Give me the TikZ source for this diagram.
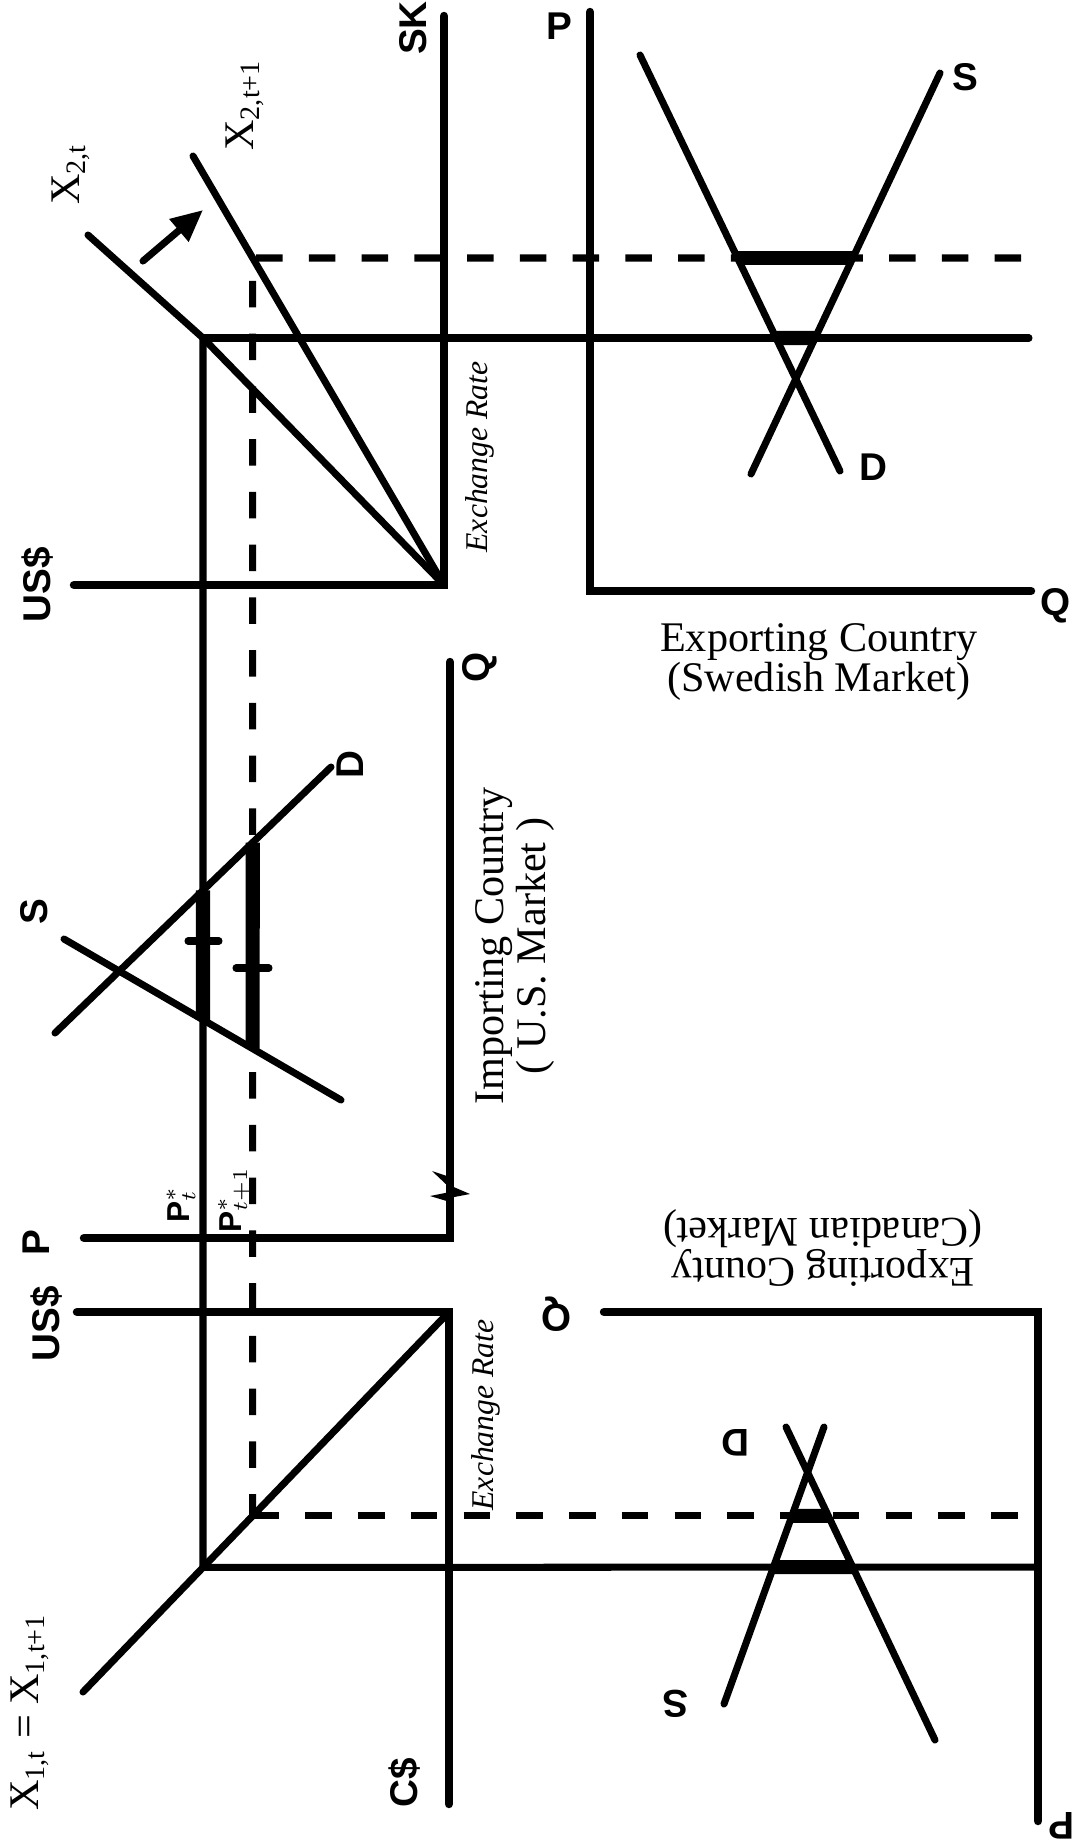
\documentclass[tikz,border=0pt]{standalone}
\usepackage{fontspec}
\setmainfont{Liberation Serif}
\setsansfont{Liberation Sans}
\usepackage{tikz}
\usetikzlibrary{arrows.meta, calc}

\begin{document}
\begin{tikzpicture}[
  x=0.01cm, y=-0.01cm,
  axis/.style={line width=2.4pt, line cap=round},
  curve/.style={line width=2pt, line cap=round},
  guide/.style={line width=2pt, dash pattern=on 7.5pt off 7.5pt},
  bar/.style={line width=4pt},
  lbl/.style={font=\sffamily\bfseries\fontsize{11}{13}\selectfont, inner sep=0pt},
  ttl/.style={font=\fontsize{12}{11.5}\selectfont, align=center, inner sep=0pt},
  rate/.style={font=\itshape\fontsize{9}{11}\selectfont, inner sep=0pt},
  xlab/.style={font=\fontsize{12}{14}\selectfont, inner sep=0pt}
]
  \useasboundingbox (0,0) rectangle (1075,1839);

  % exchange rate SK / US$
  \coordinate (skTop) at (444,16);
  \coordinate (oA)    at (444,585);
  \coordinate (usA)   at (74,585);
  \coordinate (cA)    at (203,338);
  \coordinate (xa)    at (88,235);
  \coordinate (xb)    at (193,156);
  \coordinate (gL)    at (0,258);
  \coordinate (gA)    at (1021,258);
  \coordinate (eA)    at (1029,338);
  \coordinate (dA)    at (intersection of oA--xb and gL--gA);
  \coordinate (ar1)   at (143,261);
  \coordinate (ar2)   at (203,210);

  \draw[axis] (skTop) -- (oA) -- (usA);
  \draw[curve] (oA) -- (cA) -- (xa);
  \draw[curve] (oA) -- (xb);
  \draw[curve, -{Triangle[length=9pt, width=8pt]}] (ar1) -- (ar2);

  \node[lbl, rotate=90]  (skL)  at (413,28)  {SK};
  \node[lbl, rotate=90]  (usL1) at (38,585)  {US\$};
  \node[xlab, rotate=90] (x2t)  at (71,174)  {X\textsubscript{2,t}};
  \node[xlab, rotate=90] (x2t1) at (245,105) {X\textsubscript{2,t+1}};
  \node[rate, rotate=90] (erA)  at (480,457) {Exchange Rate};

  % Swedish market
  \coordinate (pS)  at (590,12);
  \coordinate (oS)  at (590,591);
  \coordinate (qS)  at (1031,591);
  \coordinate (dS1) at (640,55);
  \coordinate (dS2) at (840,471);
  \coordinate (sS1) at (751,474);
  \coordinate (sS2) at (940,73);

  \draw[axis] (pS) -- (oS) -- (qS);
  \draw[curve] (dS1) -- (dS2);
  \draw[curve] (sS1) -- (sS2);
  \draw[bar] (intersection of dS1--dS2 and gL--gA) -- (intersection of sS1--sS2 and gL--gA);
  \draw[bar] (intersection of dS1--dS2 and cA--eA) -- (intersection of sS1--sS2 and cA--eA);

  \node[lbl] (pSL) at (559,26)  {P};
  \node[lbl] (qSL) at (1056,606) {Q};
  \node[lbl] (sSL) at (965,77)  {S};
  \node[lbl] (dSL) at (873,467) {D};
  \node[ttl] (swe) at (819,662) {Exporting Country\\(Swedish Market)};

  % exchange rate US$ / C$
  \coordinate (oB)  at (449,1312);
  \coordinate (usB) at (77,1312);
  \coordinate (cdB) at (449,1804);
  \coordinate (xc)  at (83,1692);
  \coordinate (cB)  at (intersection of oB--xc and cA--{203,1800});
  \coordinate (dBot) at (dA |- 0,1800);
  \coordinate (dB)  at (intersection of oB--xc and dA--dBot);

  \draw[axis] (usB) -- (oB) -- (cdB);
  \draw[curve] (oB) -- (xc);

  \node[lbl, rotate=90]  (usL2) at (47,1324)  {US\$};
  \node[lbl, rotate=90]  (cdL)  at (405,1783) {C\$};
  \node[xlab, rotate=90] (x1t)  at (30,1712)  {X\textsubscript{1,t} = X\textsubscript{1,t+1}};
  \node[rate, rotate=90] (erB)  at (486,1415) {Exchange Rate};

  % guide lines
  \draw[curve] (cA) -- (eA);
  \draw[curve] (cA) -- (cB);
  \draw[guide] (gA) -- (dA) -- (dB);

  % U.S. market
  \coordinate (pU)  at (84,1238);
  \coordinate (oU)  at (450,1238);
  \coordinate (qU)  at (450,662);
  \coordinate (dU1) at (55,1033);
  \coordinate (dU2) at (331,767);
  \coordinate (sU1) at (64,939);
  \coordinate (sU2) at (341,1100);

  \draw[axis] (pU) -- (oU) -- (qU);
  % axis break
  \fill (450,1177) -- (432,1171) -- (450,1188) -- cycle;
  \fill (449,1185) -- (470,1194) -- (449,1198) -- cycle;
  \fill (450,1192) -- (430,1196) -- (450,1202) -- cycle;
  \draw[curve] (dU1) -- (dU2);
  \draw[curve] (sU1) -- (sU2);
  \draw[bar] (intersection of dU1--dU2 and cA--cB) -- (intersection of sU1--sU2 and cA--cB);
  \draw[bar] (intersection of dU1--dU2 and dA--dB) -- (intersection of sU1--sU2 and dA--dB);
  \draw[curve] (188,941) -- (219,941);
  \draw[curve] (236,968) -- (269,968);

  \node[lbl, rotate=90] (pUL) at (36,1243) {P};
  \node[lbl, rotate=90] (qUL) at (480,667) {Q};
  \node[lbl, rotate=90] (sUL) at (34,912)  {S};
  \node[lbl, rotate=90] (dUL) at (350,765) {D};
  \node[rotate=90, inner sep=0pt, font=\fontsize{9}{10}\selectfont] (pt)  at (181,1204) {\textsf{\textbf{P}}$^{*}_{t}$};
  \node[rotate=90, inner sep=0pt, font=\fontsize{9}{10}\selectfont] (pt1) at (234,1200) {\textsf{\textbf{P}}$^{*}_{t+1}$};
  \node[ttl, rotate=90, anchor=base] (usm1) at (503,946) {Importing Country};
  \node[ttl, rotate=90, anchor=base] (usm2) at (545,946) {( U.S. Market )};

  % Canadian market
  \coordinate (qC)  at (604,1312);
  \coordinate (oC)  at (1038,1312);
  \coordinate (pC)  at (1038,1821);
  \coordinate (eB)  at (1038,1567);
  \coordinate (fB)  at (dB -| oC);
  \coordinate (dC1) at (786,1427);
  \coordinate (dC2) at (935,1740);
  \coordinate (sC1) at (824,1427);
  \coordinate (sC2) at (724,1704);

  \draw[axis] (qC) -- (oC) -- (pC);
  \draw[curve] (cB) -- (eB);
  \draw[guide] (dB) -- (fB);
  \draw[curve] (dC1) -- (dC2);
  \draw[curve] (sC1) -- (sC2);
  \draw[bar] (intersection of sC1--sC2 and dB--fB) -- (intersection of dC1--dC2 and dB--fB);
  \draw[bar] (intersection of sC1--sC2 and cB--eB) -- (intersection of dC1--dC2 and cB--eB);

  \node[lbl, rotate=180] (qCL) at (556,1314)  {Q};
  \node[lbl, rotate=180] (pCL) at (1062,1826) {P};
  \node[lbl, rotate=180] (dCL) at (736,1443)  {D};
  \node[lbl, rotate=180] (sCL) at (676,1704)  {S};
  \node[ttl, rotate=180] (can) at (823,1248)  {Exporting County\\(Canadian Market)};
\end{tikzpicture}
\end{document}
